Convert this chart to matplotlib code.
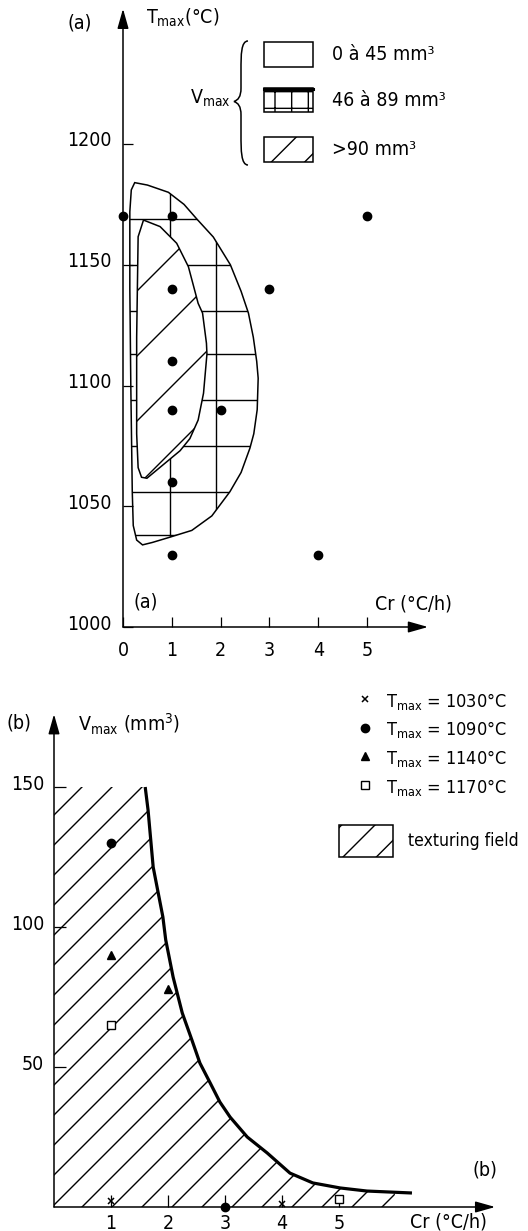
import numpy as np
import matplotlib
matplotlib.use('Agg')
import matplotlib.pyplot as plt
from matplotlib.patches import Polygon, Rectangle, PathPatch
from matplotlib.path import Path
from matplotlib.lines import Line2D
from matplotlib.collections import LineCollection
from matplotlib.transforms import IdentityTransform, ScaledTranslation

plt.rcParams['font.family'] = ['DejaVu Sans']
plt.rcParams['font.stretch'] = 'condensed'
plt.rcParams['mathtext.fontset'] = 'custom'
plt.rcParams['mathtext.default'] = 'regular'
plt.rcParams['hatch.linewidth'] = 1.0

# ---------------- (a) Tmax vs Cr, Vmax fields ----------------
cr_a = [0, 1, 5, 1, 3, 1, 1, 2, 1, 1, 4]
tmax_a = [1170, 1170, 1170, 1140, 1140, 1110, 1090, 1090, 1060, 1030, 1030]

# 46 a 89 mm3 field (outer)
outer_cr = [0.14, 0.17, 0.24, 0.50, 0.93, 1.25, 1.51, 1.85, 2.20, 2.42, 2.57, 2.67,
            2.74, 2.77, 2.75, 2.68, 2.60, 2.42, 2.19, 1.82, 1.41, 0.93, 0.60, 0.40,
            0.28, 0.21, 0.19, 0.16, 0.14]
outer_t = [1172, 1181, 1184, 1183, 1180, 1175, 1169, 1161.5, 1150, 1139, 1130, 1120,
           1110, 1103, 1090, 1080, 1074, 1064, 1056, 1046, 1040, 1037, 1035, 1034,
           1036, 1042, 1056, 1100, 1140]

# >90 mm3 field (inner)
inner_cr = [0.42, 0.76, 1.10, 1.34, 1.54, 1.63, 1.71, 1.72, 1.65, 1.54, 1.37, 1.17,
            0.49, 0.38, 0.31, 0.28, 0.28, 0.31]
inner_t = [1168.5, 1165.8, 1158.9, 1149.2, 1134, 1130, 1117.5, 1113, 1096.8, 1085.7,
           1078, 1073, 1061.6, 1062, 1066, 1080, 1120, 1161.6]

# square grid drawn inside the 46-89 field
grid_cr = [0.96, 1.90]
grid_t = [1169, 1150, 1131, 1113, 1094, 1075, 1056, 1038]

# ---------------- (b) Vmax vs Cr ----------------
cr_1030 = [1, 4]
v_1030 = [2, 1]
cr_1090 = [1, 3]
v_1090 = [130, 0]
cr_1140 = [1, 2]
v_1140 = [90, 78]
cr_1170 = [1, 5]
v_1170 = [65, 3]

edge_cr = [1.60, 1.65, 1.74, 1.91, 1.96, 2.09, 2.25, 2.42, 2.56, 2.74, 2.91, 3.09,
           3.39, 3.74, 4.14, 4.54, 5.02, 5.49, 6.28]
edge_v = [150, 141.8, 121.4, 103.6, 95.4, 82.1, 69.3, 59.6, 51.4, 44.3, 37.5, 32.1,
          25, 19.3, 12.1, 8.6, 6.8, 5.7, 5.0]

W, H = 528, 1231
FS = 14
fig = plt.figure(figsize=(W / 100, H / 100), dpi=100)


def P(x, y):
    return (x / W, 1 - y / H)


def px_axes(x0, x1, ytop, ybot):
    return fig.add_axes([x0 / W, 1 - ybot / H, (x1 - x0) / W, (ybot - ytop) / H])


def bare(ax):
    for s in ax.spines.values():
        s.set_visible(False)
    ax.patch.set_visible(False)


def hatch45(ax, clip, step, phase, lw, z):
    # 45 degree lines in pixel space, clipped to a patch
    c = phase + step * np.arange(-45, 45)
    segs = [[(0, ci), (W, W + ci)] for ci in c]
    lc = LineCollection(segs, colors='black', linewidths=lw,
                        transform=IdentityTransform(), zorder=z)
    ax.add_collection(lc, autolim=False)
    lc.set_clip_path(clip)


arrow = dict(arrowstyle='-|>,head_length=0.6,head_width=0.17', color='black',
             lw=1.1, mutation_scale=20, shrinkA=0, shrinkB=0)
up = ScaledTranslation(0, 5 / 100, fig.dpi_scale_trans)

# ======== panel (a) ========
ax1 = px_axes(123, 123 + 6.3 * 48.8, 627 - 256 * 2.415, 627)
bare(ax1)
ax1.set_xlim(0, 6.3)
ax1.set_ylim(1000, 1256)

outer = Polygon(np.column_stack([outer_cr, outer_t]), closed=True, fc='white',
                ec='black', lw=1.1, zorder=1)
ax1.add_patch(outer)
segs = [[(x, 1000), (x, 1256)] for x in grid_cr] + [[(0, t), (6.3, t)] for t in grid_t]
grid = LineCollection(segs, colors='black', linewidths=1.0, zorder=1.5)
ax1.add_collection(grid, autolim=False)
grid.set_clip_path(outer)

inner = Polygon(np.column_stack([inner_cr, inner_t]), closed=True, fc='white',
                ec='black', lw=1.1, zorder=2)
ax1.add_patch(inner)
hatch45(ax1, inner, 65, 608, 1.0, 2.5)

ax1.plot(cr_a, tmax_a, 'o', color='black', ms=6, zorder=5, clip_on=False)

ax1.annotate('', xy=(0, 1256), xytext=(0, 1000), arrowprops=arrow, annotation_clip=False)
ax1.annotate('', xy=(6.25, 1000), xytext=(0, 1000), arrowprops=arrow, annotation_clip=False)

ax1.set_xticks(range(6))
ax1.set_yticks([1000, 1050, 1100, 1150, 1200])
ax1.tick_params(axis='x', direction='in', length=7, width=0.9, pad=10, labelsize=FS)
ax1.tick_params(axis='y', direction='in', length=7, width=0.9, pad=8, labelsize=FS)
for lab in ax1.get_yticklabels():
    lab.set_transform(lab.get_transform() + up)

fig.text(*P(80, 23), '(a)', ha='center', va='center', fontsize=FS)
fig.text(*P(146, 18), r'T$_{max}$(°C)', ha='left', va='center', fontsize=FS)
fig.text(*P(146, 602), '(a)', ha='center', va='center', fontsize=FS)
fig.text(*P(375, 604), 'Cr (°C/h)', ha='left', va='center', fontsize=FS)

# legend (a)
for (y0, y1), hat, txt in zip([(42, 67), (88, 112), (137, 162)], [None, '+', '/'],
                              ['0 à 45 mm³', '46 à 89 mm³', '>90 mm³']):
    fig.add_artist(Rectangle(P(264, y1), 49 / W, (y1 - y0) / H, transform=fig.transFigure,
                             fc='white', ec='black', lw=1.1, hatch=hat))
    fig.text(*P(332, (y0 + y1) / 2), txt, ha='left', va='center', fontsize=FS)
fig.add_artist(Line2D([264 / W, 313 / W], [1 - 89 / H, 1 - 89 / H], color='black', lw=2.2,
                      transform=fig.transFigure))

bx, bt, be = 241, 234, 248
verts = [(be, 41), (bx, 41), (bx, 55), (bx, 70), (bx, 88),
         (bx, 97), (238, 100), (bt, 101.5),
         (238, 103), (bx, 106), (bx, 115), (bx, 135),
         (bx, 150), (bx, 165), (be, 165)]
codes = [Path.MOVETO, Path.CURVE4, Path.CURVE4, Path.CURVE4, Path.LINETO,
         Path.CURVE4, Path.CURVE4, Path.CURVE4,
         Path.CURVE4, Path.CURVE4, Path.CURVE4, Path.LINETO,
         Path.CURVE4, Path.CURVE4, Path.CURVE4]
fig.add_artist(PathPatch(Path([P(*v) for v in verts], codes), transform=fig.transFigure,
                         fill=False, lw=1.1, ec='black'))
fig.text(*P(231, 98), r'V$_{max}$', ha='right', va='center', fontsize=FS)

# ======== panel (b) ========
ax2 = px_axes(54, 54 + 7.75 * 57, 1207 - 176 * 2.8, 1207)
bare(ax2)
ax2.set_xlim(0, 7.75)
ax2.set_ylim(0, 176)

keep = [i for i, c in enumerate(edge_cr) if c <= 5.98]
field = [(0, 0), (0, 150)] + [(edge_cr[i], edge_v[i]) for i in keep] + [(5.98, 5.3), (5.98, 0)]
field_patch = Polygon(field, closed=True, fc='none', ec='none', zorder=1)
ax2.add_patch(field_patch)
hatch45(ax2, field_patch, 30, -58, 1.0, 1.5)
ax2.plot(edge_cr, edge_v, color='black', lw=2.3, zorder=3, solid_capstyle='butt')

ax2.plot(cr_1030, v_1030, 'x', color='black', ms=5, mew=1.1, zorder=5, clip_on=False)
ax2.plot(cr_1090, v_1090, 'o', color='black', ms=6, zorder=5, clip_on=False)
ax2.plot(cr_1140, v_1140, '^', color='black', ms=6, zorder=5, clip_on=False)
ax2.plot(cr_1170, v_1170, 's', color='black', mfc='white', mew=1.0, ms=5.5, zorder=5,
         clip_on=False)

ax2.annotate('', xy=(0, 176), xytext=(0, 0), arrowprops=arrow, annotation_clip=False)
ax2.annotate('', xy=(7.74, 0), xytext=(0, 0), arrowprops=arrow, annotation_clip=False)

ax2.set_xticks([1, 2, 3, 4, 5])
ax2.set_yticks([50, 100, 150])
ax2.tick_params(axis='x', direction='in', length=8.5, width=0.9, pad=5, labelsize=FS)
ax2.tick_params(axis='y', direction='in', length=8.5, width=0.9, pad=7, labelsize=FS)
for lab in ax2.get_yticklabels():
    lab.set_transform(lab.get_transform() + up)

fig.text(*P(7, 723), '(b)', ha='left', va='center', fontsize=FS)
fig.text(*P(78, 724), r'V$_{max}$ (mm$^3$)', ha='left', va='center', fontsize=FS)
fig.text(*P(472, 1170), '(b)', ha='left', va='center', fontsize=FS)
fig.text(*P(410, 1222), 'Cr (°C/h)', ha='left', va='center', fontsize=FS)

# legend (b)
leg_marks = [dict(marker='x', ms=5, mew=1.1, mfc='black'),
             dict(marker='o', ms=6, mfc='black'),
             dict(marker='^', ms=6, mfc='black'),
             dict(marker='s', ms=5.5, mfc='white', mew=1.0)]
leg_txt = ['1030', '1090', '1140', '1170']
for k, (mk, t) in enumerate(zip(leg_marks, leg_txt)):
    yy = 699 + 28.7 * k
    fig.add_artist(Line2D([365 / W], [1 - yy / H], ls='none', color='black',
                          transform=fig.transFigure, **mk))
    fig.text(*P(386, yy + 2), r'T$_{max}$ = ' + t + '°C', ha='left', va='center', fontsize=13)

fig.add_artist(Rectangle(P(339, 857), 54 / W, 32 / H, transform=fig.transFigure,
                         fc='white', ec='black', lw=1.1, hatch='/'))
fig.text(*P(408, 841), 'texturing field', ha='left', va='center', fontsize=12.5)

fig.savefig('out.png', dpi=100)
